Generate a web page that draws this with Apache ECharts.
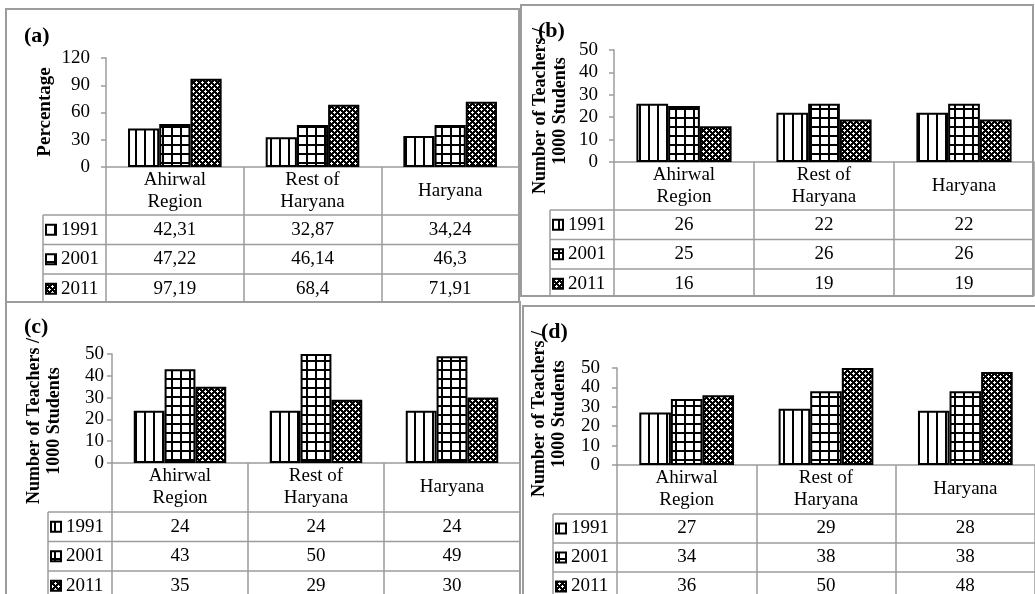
<!DOCTYPE html>
<html>
<head>
<meta charset="utf-8">
<script src="https://cdn.jsdelivr.net/npm/echarts@6/dist/echarts.min.js"></script>
<style>
  html, body { margin: 0; padding: 0; background: #ffffff; }
  #chart { width: 1035px; height: 594px; }
</style>
</head>
<body>
<div id="chart"></div>
<script>
// ---- data ----
const categories = ['Ahirwal\nRegion', 'Rest of\nHaryana', 'Haryana'];
const years = ['1991', '2001', '2011'];
// rows: 1991, 2001, 2011 ; columns follow categories
const panelA = [[42.31, 32.87, 34.24], [47.22, 46.14, 46.3], [97.19, 68.4, 71.91]];
const panelB = [[26, 22, 22], [25, 26, 26], [16, 19, 19]];
const panelC = [[24, 24, 24], [43, 50, 49], [35, 29, 30]];
const panelD = [[27, 29, 28], [34, 38, 38], [36, 50, 48]];
const panelTags = ['(a)', '(b)', '(c)', '(d)'];
const axisTitles = ['Percentage', 'Number of Teachers /\n1000 Students', 'Number of Teachers /\n1000 Students', 'Number of Teachers /\n1000 Students'];
const axisMax = [120, 50, 50, 50];
const axisStep = [30, 10, 10, 10];
const panelValues = [panelA, panelB, panelC, panelD];

// ---- layout of the four panels (pixels) ----
const layout = [
  { box: [6, 9, 519, 302],   grid: { left: 106, top: 58,  width: 413, height: 109 }, headerH: 48, rowH: 29.5, legendLeft: 43,  labelMargin: 16, titlePos: [45, 112],  titleSize: 19, tagPos: [24, 36] },
  { box: [521, 5, 1033, 296], grid: { left: 614, top: 50,  width: 420, height: 112 }, headerH: 48, rowH: 29.5, legendLeft: 550, labelMargin: 16, titlePos: [550, 111], titleSize: 18, tagPos: [538, 31] },
  { box: [6, 302, 520, 610], grid: { left: 112, top: 354, width: 408, height: 109 }, headerH: 49, rowH: 29.5, legendLeft: 48,  labelMargin: 8,  titlePos: [44, 421],  titleSize: 18, tagPos: [24, 327] },
  { box: [523, 306, 1045, 610], grid: { left: 617, top: 368, width: 421, height: 97 }, headerH: 49, rowH: 29, legendLeft: 553, labelMargin: 17, titlePos: [549, 414], titleSize: 18, tagPos: [541, 332] }
];

const FONT = 'Liberation Serif';
const GRAY = '#9c9c9c';

// ---- fill patterns for the three years ----
function makeTile(w, h, draw) {
  const c = document.createElement('canvas');
  c.width = w; c.height = h;
  const g = c.getContext('2d');
  draw(g);
  return { image: c, repeat: 'repeat' };
}
const stripes = makeTile(9, 9, g => {
  g.fillStyle = '#fff'; g.fillRect(0, 0, 9, 9);
  g.fillStyle = '#000'; g.fillRect(0, 0, 2, 9);
});
const gridFill = makeTile(9, 9, g => {
  g.fillStyle = '#fff'; g.fillRect(0, 0, 9, 9);
  g.fillStyle = '#000'; g.fillRect(0, 0, 2, 9); g.fillRect(0, 0, 9, 2);
});
const dots = makeTile(6, 6, g => {
  g.fillStyle = '#000'; g.fillRect(0, 0, 6, 6);
  g.fillStyle = '#fff';
  [[1,0],[0,1],[1,1],[2,1],[1,2],[4,3],[3,4],[4,4],[5,4],[4,5]].forEach(p => g.fillRect(p[0], p[1], 1, 1));
});
const yearFills = [stripes, gridFill, dots];

const chart = echarts.init(document.getElementById('chart'), null, { renderer: 'canvas' });

const grids = [], xAxes = [], yAxes = [], series = [];
layout.forEach((L, i) => {
  const axisY = L.grid.top + L.grid.height;
  grids.push(Object.assign({ containLabel: false }, L.grid));
  xAxes.push({
    type: 'category', gridIndex: i, data: categories,
    axisLine: { show: true, lineStyle: { color: GRAY, width: 1.5 } },
    // category boundary ticks run down through the table as its column rules
    axisTick: { show: true, length: L.box[3] - axisY, lineStyle: { color: GRAY, width: 1.5 } },
    axisLabel: { interval: 0, margin: L.headerH / 2, verticalAlign: 'middle', lineHeight: 22,
                 fontFamily: FONT, fontSize: 19, color: '#000' },
    splitLine: { show: false }
  });
  yAxes.push({
    type: 'value', gridIndex: i, min: 0, max: axisMax[i], interval: axisStep[i],
    axisLine: { show: true, lineStyle: { color: GRAY, width: 1.5 } },
    axisTick: { show: true, length: 5, lineStyle: { color: GRAY, width: 1.5 } },
    axisLabel: { margin: L.labelMargin, fontFamily: FONT, fontSize: 19, color: '#000' },
    splitLine: { show: false }
  });
  years.forEach((yr, k) => {
    series.push({
      type: 'bar', name: yr, xAxisIndex: i, yAxisIndex: i,
      data: panelValues[i][k],
      barGap: '0%', barCategoryGap: '32%',
      itemStyle: { color: yearFills[k], borderColor: '#000', borderWidth: 2 },
      silent: true
    });
  });
});

chart.setOption({
  animation: false,
  backgroundColor: '#fff',
  grid: grids, xAxis: xAxes, yAxis: yAxes, series: series
});

// ---- panel frames, titles and the data tables under each chart ----
const fmt = v => String(v).replace('.', ',');
const graphics = [];
layout.forEach((L, i) => {
  const [x1, y1, x2, y2] = L.box;
  graphics.push({ type: 'rect', shape: { x: x1, y: y1, width: x2 - x1, height: y2 - y1 },
                  style: { fill: 'none', stroke: GRAY, lineWidth: 2 }, silent: true });
  graphics.push({ type: 'text', x: L.tagPos[0], y: L.tagPos[1],
                  style: { text: panelTags[i], font: 'bold 22px "' + FONT + '"', fill: '#000', verticalAlign: 'middle' } });
  graphics.push({ type: 'text', x: L.titlePos[0], y: L.titlePos[1], rotation: Math.PI / 2,
                  style: { text: axisTitles[i], font: 'bold ' + L.titleSize + 'px "' + FONT + '"', fill: '#000',
                           align: 'center', verticalAlign: 'middle', lineHeight: 20 } });

  const centers = categories.map((c, k) => chart.convertToPixel({ xAxisIndex: i }, k));
  const step = centers[1] - centers[0];
  const right = centers[centers.length - 1] + step / 2;
  const y0 = chart.convertToPixel({ yAxisIndex: i }, 0);
  const top = y0 + L.headerH;
  for (let r = 0; r < years.length; r++) {
    const yy = top + r * L.rowH;
    graphics.push({ type: 'line', shape: { x1: L.legendLeft, y1: yy, x2: right, y2: yy },
                    style: { stroke: GRAY, lineWidth: 1.5 }, silent: true });
  }
  graphics.push({ type: 'line', shape: { x1: L.legendLeft, y1: top, x2: L.legendLeft, y2: y2 },
                  style: { stroke: GRAY, lineWidth: 1.5 }, silent: true });
  years.forEach((yr, r) => {
    const cy = top + r * L.rowH + L.rowH / 2;
    graphics.push({ type: 'rect', shape: { x: L.legendLeft + 3, y: cy - 5, width: 10, height: 10 },
                    style: { fill: yearFills[r], stroke: '#000', lineWidth: 2 }, silent: true });
    graphics.push({ type: 'text', x: L.legendLeft + 18, y: cy,
                    style: { text: yr, font: '19px "' + FONT + '"', fill: '#000', verticalAlign: 'middle' } });
    centers.forEach((cx, k) => {
      graphics.push({ type: 'text', x: cx, y: cy,
                      style: { text: fmt(panelValues[i][r][k]), font: '19px "' + FONT + '"', fill: '#000',
                               align: 'center', verticalAlign: 'middle' } });
    });
  });
});
chart.setOption({ graphic: graphics });
</script>
</body>
</html>
